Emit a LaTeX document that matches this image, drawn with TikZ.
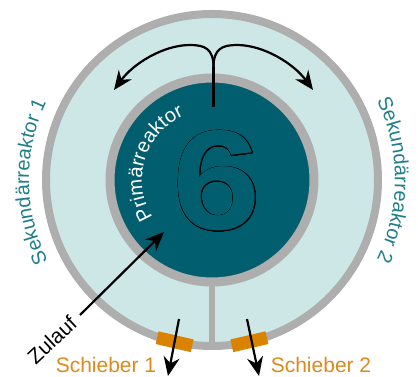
\documentclass[tikz,border=0pt]{standalone}
\usepackage{fontspec}
\setmainfont{Liberation Sans}
\usetikzlibrary{arrows.meta,decorations.text,calc}
\definecolor{ringfill}{HTML}{CDE7E7}
\definecolor{darkteal}{HTML}{005E6E}
\definecolor{ringgray}{HTML}{AEAEAE}
\definecolor{tealtext}{HTML}{1F7F8A}
\definecolor{orangebox}{HTML}{D98300}
\definecolor{orangetext}{HTML}{DA8A1F}
\begin{document}
\begin{tikzpicture}[x=1pt,y=1pt,
  arr/.style={line width=2.2pt,-{Stealth[length=19pt,width=16pt]}},
  lbl/.style={font=\fontsize{21}{24}\selectfont,inner sep=0pt},
  schieberbox/.style={rectangle,fill=orangebox,minimum width=36pt,minimum height=13pt,inner sep=0pt},
  sixstyle/.style={font=\fontsize{142}{142}\selectfont\bfseries,inner sep=0pt,xscale=1.12}]
\useasboundingbox (0,0) rectangle (418,377);
\coordinate (C) at (212,197);
% rings
\node[circle,draw=ringgray,line width=8pt,fill=ringfill,minimum size=332pt,inner sep=0pt] (outer) at (C) {};
\node[circle,draw=ringgray,line width=9pt,fill=darkteal,minimum size=204pt,inner sep=0pt] (inner) at (C) {};
\draw[ringgray,line width=6.5pt] (inner.south) -- (outer.south);
% Schieber blocks
\node[schieberbox,rotate=-13] (s1) at ([shift={(-103:166pt)}]C) {};
\node[schieberbox,rotate=13] (s2) at ([shift={(-77:166pt)}]C) {};
% big 6 outlined
\coordinate (sixc) at (217,196);
\foreach \a in {0,22.5,...,337.5}
  \node[sixstyle,text=black] at ([shift={(\a:0.45pt)}]sixc) {6};
\node[sixstyle,text=darkteal] (six) at (sixc) {6};
% curved texts
\path[decorate,decoration={text along path,text align=center,
  text={|\fontsize{20}{24}\selectfont\color{white}|Primärreaktor}}]
  ([shift={(230:70pt)}]C) arc[start angle=230,end angle=96,radius=70pt];
\path[decorate,decoration={text along path,text align=center,
  text={|\fontsize{20}{24}\selectfont\color{tealtext}|Sekundärreaktor 1}}]
  ([shift={(215:183pt)}]C) arc[start angle=215,end angle=146,radius=183pt];
\path[decorate,decoration={text along path,text align=center,
  text={|\fontsize{20}{24}\selectfont\color{tealtext}|Sekundärreaktor 2}}]
  ([shift={(35:183pt)}]C) arc[start angle=35,end angle=-35,radius=183pt];
% top split arrows
\coordinate (stem) at (213.5,270);
\coordinate (cusp) at (213.5,310);
\coordinate (tl) at (114,287);
\coordinate (tr) at (313,287);
\draw[line width=2.2pt] (stem) -- (cusp);
\draw[arr] (cusp) .. controls (213.5,328) and (205,332) .. (190,332) .. controls (163,332) and (133,313) .. (tl);
\draw[arr] (cusp) .. controls (213.5,328) and (222,332) .. (237,332) .. controls (264,332) and (294,313) .. (tr);
% Zulauf
\coordinate (z0) at (80,62);
\coordinate (z1) at (164,145);
\draw[arr] (z0) -- (z1);
\node[lbl,rotate=43] (zl) at (52,37) {Zulauf};
% Schieber arrows
\coordinate (a1) at (179,58);
\coordinate (b1) at (168,1);
\coordinate (a2) at (247,58);
\coordinate (b2) at (259,1);
\draw[arr] (a1) -- (b1);
\draw[arr] (a2) -- (b2);
\node[lbl,text=orangetext] (sl1) at (106,12) {Schieber 1};
\node[lbl,text=orangetext] (sl2) at (321,12) {Schieber 2};
\end{tikzpicture}
\end{document}
